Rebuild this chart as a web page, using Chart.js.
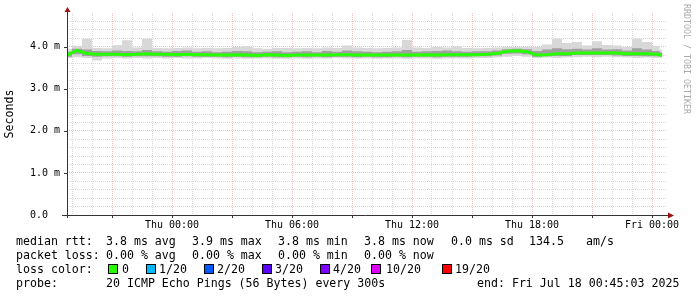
<!DOCTYPE html>
<html lang="en">
  <head>
    <meta charset="UTF-8" />
    <title>Smokeping median rtt</title>
    <style>
      * { margin: 0; padding: 0; box-sizing: border-box; }
      body { background: #fff; width: 697px; height: 297px; position: relative; overflow: hidden; }
      canvas { position: absolute; left: 0; top: 0; }
      .leg { position: absolute; font-family: "DejaVu Sans Mono", monospace; font-size: 11.6px; line-height: 14px; color: #000; white-space: pre; }
      .box { position: absolute; width: 10px; height: 10px; border: 1px solid #000; }
      .mark { position: absolute; left: 682px; top: 4px; font-family: "DejaVu Sans Mono", monospace; font-size: 8.3px; color: #aaa; writing-mode: vertical-rl; }
    </style>
    <script src="https://cdn.jsdelivr.net/npm/chart.js"></script>
  </head>
  <body>
    <canvas id="rtt" width="697" height="297"></canvas>
    <div class="mark">RRDTOOL / TOBI OETIKER</div>
    <div id="legend"></div>
    <script>
      // minutes since Wed 18:45 (graph start), one sample every 30 min
      const times = [
        0, 30, 60, 90, 120, 150, 180, 210, 240, 270,
        300, 330, 360, 390, 420, 450, 480, 510, 540, 570,
        600, 630, 660, 690, 720, 750, 780, 810, 840, 870,
        900, 930, 960, 990, 1020, 1050, 1080, 1110, 1140, 1170,
        1200, 1230, 1260, 1290, 1320, 1350, 1380, 1410, 1440, 1470,
        1500, 1530, 1560, 1590, 1620, 1650, 1680, 1710, 1740, 1770,
        1785
      ];

      // values in ms
      const median = [
        3.80, 3.91, 3.84, 3.82, 3.82, 3.82, 3.81, 3.82, 3.83, 3.82,
        3.82, 3.81, 3.82, 3.81, 3.81, 3.80, 3.80, 3.81, 3.80, 3.79,
        3.81, 3.80, 3.79, 3.80, 3.80, 3.80, 3.80, 3.81, 3.81, 3.80,
        3.80, 3.80, 3.80, 3.80, 3.80, 3.80, 3.81, 3.80, 3.81, 3.81,
        3.81, 3.81, 3.82, 3.84, 3.89, 3.90, 3.88, 3.80, 3.81, 3.83,
        3.83, 3.85, 3.85, 3.85, 3.85, 3.85, 3.83, 3.83, 3.83, 3.82,
        3.79
      ];
      const innerHi = [
        3.88, 3.95, 3.93, 3.90, 3.89, 3.91, 3.90, 3.89, 3.92, 3.89,
        3.88, 3.90, 3.91, 3.88, 3.89, 3.87, 3.88, 3.90, 3.89, 3.87,
        3.88, 3.89, 3.87, 3.88, 3.89, 3.87, 3.90, 3.88, 3.91, 3.89,
        3.88, 3.87, 3.88, 3.89, 3.92, 3.88, 3.89, 3.90, 3.91, 3.89,
        3.88, 3.89, 3.89, 3.91, 3.94, 3.95, 3.94, 3.90, 3.93, 3.96,
        3.94, 3.95, 3.93, 3.96, 3.93, 3.94, 3.91, 3.96, 3.93, 3.90,
        3.86
      ];
      const innerLo = [
        3.76, 3.82, 3.78, 3.76, 3.77, 3.77, 3.76, 3.77, 3.77, 3.77,
        3.76, 3.76, 3.77, 3.76, 3.76, 3.76, 3.75, 3.76, 3.75, 3.75,
        3.76, 3.75, 3.75, 3.76, 3.75, 3.76, 3.75, 3.76, 3.76, 3.75,
        3.76, 3.75, 3.75, 3.76, 3.75, 3.76, 3.76, 3.75, 3.76, 3.76,
        3.76, 3.77, 3.77, 3.79, 3.83, 3.84, 3.82, 3.76, 3.77, 3.78,
        3.78, 3.80, 3.80, 3.80, 3.80, 3.79, 3.78, 3.78, 3.77, 3.77,
        3.76
      ];
      const smokeHi = [
        3.95, 4.02, 4.19, 3.97, 3.96, 4.04, 4.15, 3.98, 4.19, 3.97,
        3.96, 3.97, 3.98, 3.96, 3.97, 3.96, 3.97, 3.99, 4.01, 3.96,
        3.95, 3.97, 3.97, 3.96, 3.97, 3.96, 3.98, 3.97, 4.03, 3.98,
        3.97, 3.96, 3.97, 3.98, 4.16, 3.98, 3.97, 3.99, 3.98, 4.01,
        3.97, 3.96, 3.97, 3.98, 4.00, 3.99, 4.00, 3.99, 4.05, 4.19,
        4.09, 4.11, 4.03, 4.13, 4.04, 4.03, 3.99, 4.19, 4.11, 4.02,
        3.93
      ];
      const smokeLo = [
        3.73, 3.75, 3.73, 3.67, 3.72, 3.73, 3.72, 3.73, 3.72, 3.73,
        3.72, 3.73, 3.72, 3.72, 3.73, 3.72, 3.71, 3.72, 3.71, 3.72,
        3.72, 3.71, 3.71, 3.72, 3.71, 3.72, 3.72, 3.73, 3.72, 3.72,
        3.72, 3.71, 3.72, 3.72, 3.71, 3.72, 3.72, 3.71, 3.72, 3.72,
        3.72, 3.73, 3.73, 3.74, 3.76, 3.78, 3.76, 3.73, 3.74, 3.73,
        3.74, 3.75, 3.76, 3.75, 3.76, 3.75, 3.74, 3.73, 3.74, 3.73,
        3.74
      ];

      const tickLabels = ["Thu 00:00", "Thu 06:00", "Thu 12:00", "Thu 18:00", "Fri 00:00"];
      const tickMinutes = [315, 675, 1035, 1395, 1755];

      const lossLabels = ["0", "1/20", "2/20", "3/20", "4/20", "10/20", "19/20"];
      const lossColors = ["#26ff00", "#00b8ff", "#0059ff", "#5e00ff", "#7e00ff", "#dd00ff", "#ff0000"];

      const legendRows = [
        [[16, "median rtt:"], [106, "3.8 ms avg"], [192, "3.9 ms max"], [278, "3.8 ms min"], [364, "3.8 ms now"], [451, "0.0 ms sd"], [529, "134.5"], [586, "am/s"]],
        [[16, "packet loss:"], [106, "0.00 % avg"], [192, "0.00 % max"], [278, "0.00 % min"], [364, "0.00 % now"]],
        [[16, "loss color:"]],
        [[16, "probe:"], [106, "20 ICMP Echo Pings (56 Bytes) every 300s"], [477, "end: Fri Jul 18 00:45:03 2025"]]
      ];
      const boxX = [108, 146, 204, 262, 320, 371, 442];
      const boxTextX = [122, 159, 217, 275, 333, 386, 455];

      // legend as real text
      const legend = document.getElementById("legend");
      legendRows.forEach((row, i) => {
        row.forEach(([x, t]) => {
          const d = document.createElement("div");
          d.className = "leg";
          d.style.left = x + "px";
          d.style.top = 234 + i * 14 + "px";
          d.textContent = t;
          legend.appendChild(d);
        });
      });
      lossLabels.forEach((t, i) => {
        const b = document.createElement("div");
        b.className = "box";
        b.style.left = boxX[i] + "px";
        b.style.top = "264px";
        b.style.background = lossColors[i];
        legend.appendChild(b);
        const d = document.createElement("div");
        d.className = "leg";
        d.style.left = boxTextX[i] + "px";
        d.style.top = "262px";
        d.textContent = t;
        legend.appendChild(d);
      });

      const GRID = "rgba(180,180,180,0.5)";
      const MGRID = "rgba(230,130,130,0.5)";

      const axisArrows = {
        id: "axisArrows",
        afterDraw(chart) {
          const { ctx, chartArea: a, scales: { x, y } } = chart;
          ctx.save();
          ctx.strokeStyle = "#333";
          ctx.lineWidth = 1;
          ctx.beginPath();
          // small tick marks
          for (let m = 135; m <= 1800; m += 180) {
            const px = Math.round(x.getPixelForValue(m)) + 0.5;
            ctx.moveTo(px, a.bottom);
            ctx.lineTo(px, a.bottom + 3);
          }
          for (let v = 1; v <= 4; v++) {
            const py = Math.round(y.getPixelForValue(v)) + 0.5;
            ctx.moveTo(a.left - 3, py);
            ctx.lineTo(a.left, py);
          }
          ctx.moveTo(a.left - 5, a.bottom + 0.5);
          ctx.lineTo(a.right + 2, a.bottom + 0.5);
          ctx.moveTo(a.left + 0.5, a.bottom + 3);
          ctx.lineTo(a.left + 0.5, a.top - 1);
          ctx.stroke();
          ctx.fillStyle = "#a01010";
          ctx.beginPath();
          ctx.moveTo(a.right + 1, a.bottom - 2.5);
          ctx.lineTo(a.right + 7, a.bottom + 0.5);
          ctx.lineTo(a.right + 1, a.bottom + 3.5);
          ctx.closePath();
          ctx.fill();
          ctx.beginPath();
          ctx.moveTo(a.left - 2.5, a.top - 1);
          ctx.lineTo(a.left + 0.5, a.top - 6);
          ctx.lineTo(a.left + 3.5, a.top - 1);
          ctx.closePath();
          ctx.fill();
          ctx.restore();
        }
      };

      const band = (data, fill, color, order) => ({
        data,
        fill: fill === null ? false : fill,
        backgroundColor: color,
        borderWidth: 0,
        pointRadius: 0,
        stepped: "middle",
        order
      });

      new Chart(document.getElementById("rtt"), {
        type: "line",
        data: {
          labels: times,
          datasets: [
            { data: median, borderColor: "#26ff00", borderWidth: 3, pointRadius: 0, fill: false, order: 0 },
            band(innerHi, 2, "#a0a0a0", 1),
            band(innerLo, null, "transparent", 1),
            band(smokeHi, 4, "#d8d8d8", 2),
            band(smokeLo, null, "transparent", 2)
          ]
        },
        options: {
          responsive: false,
          animation: false,
          devicePixelRatio: 1,
          layout: { padding: { top: 11, right: 30, left: 0, bottom: 0 } },
          plugins: { legend: { display: false }, tooltip: { enabled: false } },
          scales: {
            x: {
              type: "linear",
              min: 0,
              max: 1800,
              afterBuildTicks(scale) {
                const t = [];
                for (let m = 15; m < 1800; m += 60) t.push({ value: m });
                scale.ticks = t;
              },
              afterFit(scale) { scale.height = 82; },
              border: { display: false, dash: [1, 1] },
              grid: {
                drawTicks: false,
                color: (c) => ((c.tick.value - 135) % 180 === 0 ? MGRID : GRID)
              },
              ticks: {
                autoSkip: false,
                maxRotation: 0,
                padding: 4,
                color: "#000",
                font: { family: "DejaVu Sans Mono", size: 10 },
                callback: (v) => {
                  const i = tickMinutes.indexOf(v);
                  return i < 0 ? "" : tickLabels[i];
                }
              }
            },
            y: {
              min: 0,
              max: 4.8,
              afterFit(scale) { scale.width = 67; },
              border: { display: false, dash: [1, 1] },
              grid: {
                drawTicks: false,
                color: (c) => {
                  const s = Math.round(c.tick.value * 5);
                  if (s === 0 || s === 24) return "transparent";
                  return s % 5 === 0 ? MGRID : GRID;
                }
              },
              ticks: {
                stepSize: 0.2,
                autoSkip: false,
                padding: 7,
                color: "#000",
                font: { family: "DejaVu Sans Mono", size: 10 },
                callback: (v) => {
                  const s = Math.round(v * 5);
                  if (s % 5 !== 0) return "";
                  if (s === 0) return "0.0  ";
                  return (s / 5).toFixed(1) + " m";
                }
              },
              title: {
                display: true,
                text: "Seconds",
                color: "#000",
                padding: { top: 3, bottom: 0 },
                font: { family: "DejaVu Sans Mono", size: 11.6 }
              }
            }
          }
        },
        plugins: [axisArrows]
      });
    </script>
  </body>
</html>
